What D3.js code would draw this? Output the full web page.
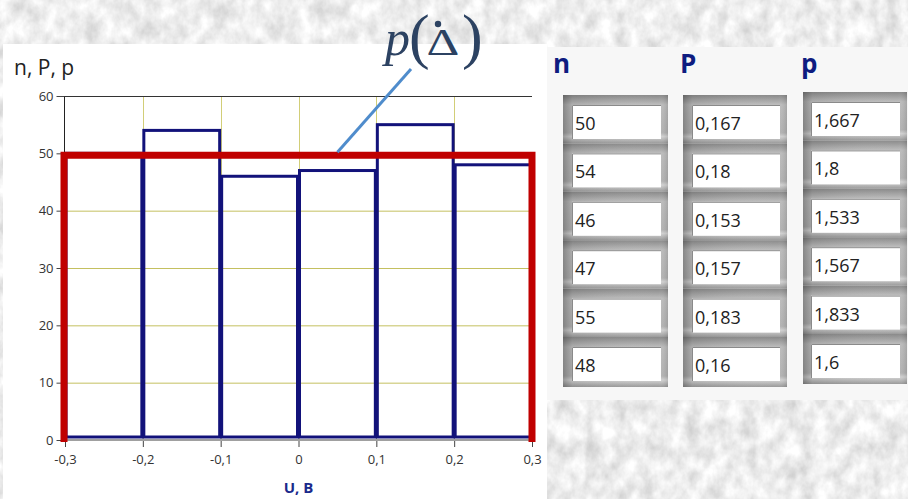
<!DOCTYPE html>
<html>
<head>
<meta charset="utf-8">
<script src="https://cdn.jsdelivr.net/npm/d3@7"></script>
<style>
  html, body { margin: 0; padding: 0; background: #dcdcdc; }
  svg { display: block; }
</style>
</head>
<body>
<svg id="chart" width="908" height="499"></svg>
<script>
// Histogram of the measured voltage U with the frequency table
const binEdges = [-0.3, -0.2, -0.1, 0, 0.1, 0.2, 0.3];
const counts   = [50, 54, 46, 47, 55, 48];                   // n
const relFreq  = [0.167, 0.18, 0.153, 0.157, 0.183, 0.16];   // P
const density  = [1.667, 1.8, 1.533, 1.567, 1.833, 1.6];     // p
const yTicks   = [0, 10, 20, 30, 40, 50, 60];
const xTicks   = [-0.3, -0.2, -0.1, 0, 0.1, 0.2, 0.3];
const uniformLevel = 50;     // expected count per bin for a uniform law
const columnHeads = ["n", "P", "p"];

const W = 908, H = 499;
const svg = d3.select("#chart");
const defs = svg.append("defs");

// stone-like page background
const tex = defs.append("filter").attr("id", "stone")
  .attr("x", 0).attr("y", 0).attr("width", "100%").attr("height", "100%");
tex.append("feTurbulence").attr("type", "fractalNoise")
  .attr("baseFrequency", "0.07 0.05").attr("numOctaves", 4).attr("seed", 11);
tex.append("feColorMatrix").attr("type", "matrix")
  .attr("values", "0.55 0 0 0 0.575  0.55 0 0 0 0.575  0.55 0 0 0 0.575  0 0 0 0 1");
svg.append("rect").attr("width", W).attr("height", H).attr("filter", "url(#stone)");

// panels
svg.append("rect").attr("x", 3).attr("y", 44).attr("width", 544).attr("height", H - 44).attr("fill", "#ffffff");
svg.append("rect").attr("x", 547).attr("y", 47).attr("width", W - 547).attr("height", 353).attr("fill", "#f7f7f7");

// scales
const x = d3.scaleLinear().domain([-0.3, 0.3]).range([65, 532]);
const y = d3.scaleLinear().domain([0, 60]).range([440, 96]);
const loc = d3.formatLocale({ decimal: ",", thousands: " ", grouping: [3], currency: ["", ""], minus: "-" });
const fmt = loc.format("~g");
const uiFont = "'Open Sans', 'Noto Sans', sans-serif";

const plot = svg.append("g");

// grid
plot.append("g").selectAll("line").data(yTicks.filter(v => v > 0 && v < 60)).join("line")
  .attr("x1", x(-0.3)).attr("x2", x(0.3))
  .attr("y1", d => y(d) + 0.5).attr("y2", d => y(d) + 0.5)
  .attr("stroke", "#c4c060").attr("stroke-width", 1);
plot.append("g").selectAll("line").data(xTicks.slice(1, -1)).join("line")
  .attr("x1", d => Math.round(x(d)) + 0.5).attr("x2", d => Math.round(x(d)) + 0.5)
  .attr("y1", y(60)).attr("y2", y(0))
  .attr("stroke", "#d2ce78").attr("stroke-width", 1);

// frame top
plot.append("line").attr("x1", x(-0.3)).attr("x2", x(0.3))
  .attr("y1", y(60) + 0.5).attr("y2", y(60) + 0.5).attr("stroke", "#333").attr("stroke-width", 1);

// bottom axis line
plot.append("line").attr("x1", x(-0.3)).attr("x2", x(0.3))
  .attr("y1", y(0)).attr("y2", y(0)).attr("stroke", "#a0a0a0").attr("stroke-width", 2);

// axes
const yAxis = plot.append("g").attr("transform", `translate(${x(-0.3) - 0.5},0)`)
  .call(d3.axisLeft(y).tickValues(yTicks).tickSize(8).tickPadding(3).tickFormat(d3.format("d")));
yAxis.select(".domain").attr("stroke", "#222").attr("d", `M0,${y(60)}V${y(0)}`);
yAxis.selectAll(".tick line").attr("stroke", "#444");
yAxis.selectAll(".tick text").attr("fill", "#333").attr("font-size", 13).attr("font-family", uiFont);

const xAxis = plot.append("g").attr("transform", `translate(0,${y(0) + 1})`)
  .call(d3.axisBottom(x).tickValues(xTicks).tickSize(6).tickPadding(8).tickFormat(fmt));
xAxis.select(".domain").remove();
xAxis.selectAll(".tick line").attr("stroke", "#444");
xAxis.selectAll(".tick text").attr("fill", "#333").attr("font-size", 13).attr("font-family", uiFont);

// histogram bars
const bins = counts.map((n, i) => ({ x0: binEdges[i], x1: binEdges[i + 1], n }));
plot.append("g").selectAll("rect").data(bins).join("rect")
  .attr("x", d => x(d.x0) + 1)
  .attr("width", d => x(d.x1) - x(d.x0) - 2)
  .attr("y", d => y(d.n))
  .attr("height", d => y(0) - 3 - y(d.n))
  .attr("fill", "none").attr("stroke", "#12127a").attr("stroke-width", 3);

// constant density level
plot.append("path")
  .attr("d", `M${x(-0.3) - 1},${y(0) + 2}V${y(uniformLevel) + 2}H${x(0.3)}V${y(0) + 2}`)
  .attr("fill", "none").attr("stroke", "#c00000").attr("stroke-width", 7)
  .attr("stroke-linejoin", "miter");

// label pointer
plot.append("line")
  .attr("x1", x(0.05)).attr("y1", y(uniformLevel) - 1)
  .attr("x2", 411).attr("y2", 69)
  .attr("stroke", "#4f8ccc").attr("stroke-width", 3);

// formula label p(Δ) with a dot accent
const mathFont = "'Liberation Serif', 'DejaVu Serif', serif";
const ink = "#2c4262";
const lab = svg.append("g").attr("fill", ink).attr("font-family", mathFont);
lab.append("text").attr("x", 385).attr("y", 55).attr("font-size", 50).attr("font-style", "italic").text("p");
lab.append("text").attr("x", 409).attr("y", 56.5).attr("font-size", 62).text("(");
lab.append("text").attr("transform", "translate(443,55) scale(1.38,1)")
  .attr("text-anchor", "middle").attr("font-size", 37).text("\u0394");
lab.append("circle").attr("cx", 438).attr("cy", 24).attr("r", 3.2);
lab.append("text").attr("x", 462).attr("y", 56.5).attr("font-size", 62).text(")");

// axis titles
svg.append("text").attr("x", 14).attr("y", 75)
  .attr("font-family", uiFont).attr("font-size", 21)
  .attr("fill", "#222").text("n, P, p");
svg.append("text").attr("x", x(0)).attr("y", 493).attr("text-anchor", "middle")
  .attr("font-family", uiFont).attr("font-size", 15)
  .attr("font-weight", "bold").attr("fill", "#1a2a8c").text("U, B");

// frequency table
const cellGrad = defs.append("linearGradient").attr("id", "bevel")
  .attr("x1", 0).attr("y1", 0).attr("x2", 0).attr("y2", 1);
[[0, "#8a8a8a"], [0.2, "#bdbdbd"], [0.78, "#b4b4b4"], [0.86, "#d4d4d4"], [1, "#9a9a9a"]]
  .forEach(([o, c]) => cellGrad.append("stop").attr("offset", o).attr("stop-color", c));
const sideGrad = defs.append("linearGradient").attr("id", "side")
  .attr("x1", 0).attr("y1", 0).attr("x2", 1).attr("y2", 0);
[[0, "#000", 0.28], [0.09, "#000", 0.08], [0.91, "#fff", 0], [1, "#000", 0.12]]
  .forEach(([o, c, a]) => sideGrad.append("stop").attr("offset", o).attr("stop-color", c).attr("stop-opacity", a));

const columns = [
  { values: counts,   frameX: 563, innerX: 572, innerW: 89, top: 105 },
  { values: relFreq,  frameX: 683, innerX: 692, innerW: 88, top: 105 },
  { values: density,  frameX: 803, innerX: 811, innerW: 89, top: 102 }
];
const rowPitch = 48.4, innerH = 34;
const headX = [553, 680, 801];

const table = svg.append("g");
columns.forEach((col, ci) => {
  table.append("text").attr("x", headX[ci]).attr("y", 73)
    .attr("font-family", uiFont).attr("font-size", 26)
    .attr("font-weight", "bold").attr("fill", "#0e1c80").text(columnHeads[ci]);
  const frameW = col.innerX - col.frameX + col.innerW + 7;
  const g = table.append("g");
  col.values.forEach((v, ri) => {
    const top = col.top + ri * rowPitch;
    const blockTop = top - 10;
    const blockH = ri === col.values.length - 1 ? innerH + 16 : rowPitch;
    g.append("rect").attr("x", col.frameX).attr("y", blockTop)
      .attr("width", frameW).attr("height", blockH).attr("fill", "url(#bevel)");
    g.append("rect").attr("x", col.frameX).attr("y", blockTop)
      .attr("width", frameW).attr("height", blockH).attr("fill", "url(#side)");
    g.append("rect").attr("x", col.innerX).attr("y", top)
      .attr("width", col.innerW).attr("height", innerH).attr("fill", "#ffffff");
    g.append("path").attr("d", `M${col.innerX + 0.5},${top + innerH}V${top + 0.5}H${col.innerX + col.innerW}`)
      .attr("fill", "none").attr("stroke", "#8a8a8a").attr("stroke-width", 1);
    g.append("text").attr("x", col.innerX + 3).attr("y", top + 25)
      .attr("font-family", uiFont).attr("font-size", 18)
      .attr("fill", "#222").text(String(v).replace(".", ","));
  });
});
</script>
</body>
</html>
